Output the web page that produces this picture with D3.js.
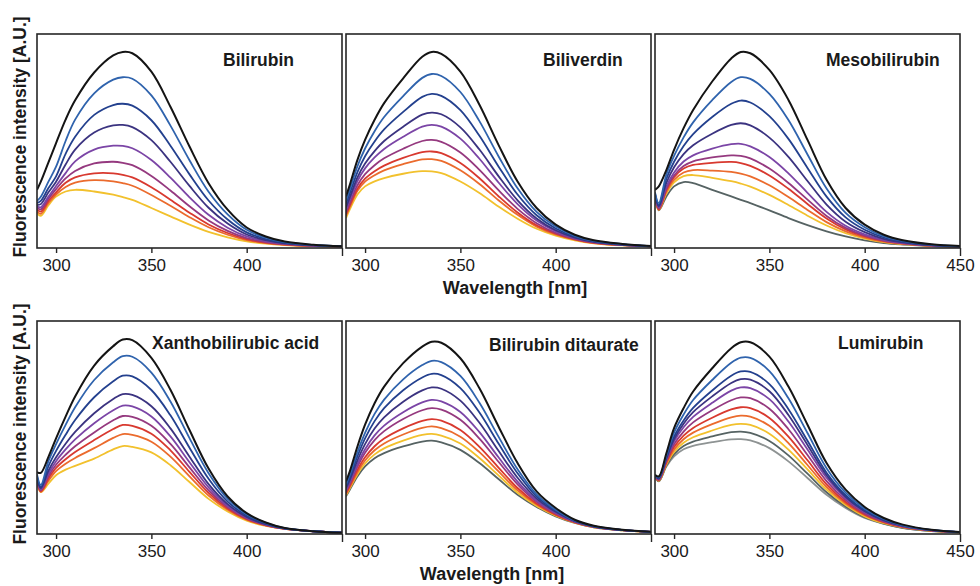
<!DOCTYPE html>
<html>
<head>
<meta charset="utf-8">
<script src="https://cdn.jsdelivr.net/npm/d3@7"></script>
<style>
  html, body { margin: 0; padding: 0; background: #fff; }
  svg { display: block; }
  text { font-family: "Liberation Sans", Arial, Helvetica, sans-serif; fill: #1a1a1a; }
</style>
</head>
<body>
<svg id="chart" width="980" height="586"></svg>
<script>
// Emission wavelengths (nm) shared by every spectrum
const wavelengths = [290, 292, 296, 300, 305, 310, 320, 330, 335, 340, 350, 360, 370, 380, 390, 400, 410, 420, 435, 450];
const xTicks = [300, 350, 400, 450];
const panelNames = ["Bilirubin", "Biliverdin", "Mesobilirubin", "Xanthobilirubic acid", "Bilirubin ditaurate", "Lumirubin"];
// Trace colours, highest intensity first
const traceColors = ["#141414", "#2f63ad", "#23408e", "#3b3380", "#7b45a6", "#95397f", "#d8392f", "#eb6b2d", "#f2c12d", "#566363", "#8e9393"];

// Fluorescence intensity (A.U.), one row per trace
const bilirubin = [
  [27.2, 31, 40, 49, 60, 69, 82, 90, 91.6, 91, 82.4, 66, 47.4, 30.3, 17.9, 9.6, 5.4, 3, 1.5, 0.8],
  [22, 24, 31, 38, 50, 60, 72.3, 78.7, 79.8, 79.1, 71.3, 57.2, 41, 26.3, 15.7, 8.5, 4.8, 2.7, 1.4, 0.8],
  [21, 22, 28, 33.5, 44, 52, 62.2, 66.8, 67.4, 66.5, 59.7, 47.8, 34.4, 22.2, 13.3, 7.3, 4.2, 2.4, 1.3, 0.8],
  [20, 20.5, 26, 31, 39, 46, 54, 57.3, 57.5, 56.5, 50.4, 40.3, 29, 18.8, 11.4, 6.3, 3.7, 2.2, 1.2, 0.8],
  [19.5, 19, 24, 29, 35, 40.5, 46, 47.8, 47.7, 46.6, 41.1, 32.9, 23.7, 15.5, 9.5, 5.4, 3.2, 2, 1.1, 0.8],
  [19, 18, 23, 27.5, 32.5, 36, 39.5, 40.3, 39.8, 38.7, 33.7, 26.9, 19.5, 12.9, 8, 4.6, 2.8, 1.8, 1, 0.8],
  [18, 17, 22, 26, 30.5, 33, 34.9, 34.9, 34.2, 33, 28.4, 22.6, 16.5, 11, 7, 4.1, 2.5, 1.6, 1, 0.8],
  [17, 16, 21, 25, 28.5, 30.5, 31.7, 31.1, 30.3, 29.1, 24.8, 19.7, 14.4, 9.7, 6.2, 3.7, 2.3, 1.5, 0.9, 0.8],
  [16.3, 15, 20, 24, 26.4, 27.2, 26.4, 24.9, 23.8, 22.5, 18.7, 14.8, 10.9, 7.5, 5, 3.1, 2, 1.4, 0.9, 0.8]
];
const biliverdin = [
  [24.1, 29.5, 41.2, 50.5, 59.9, 67.7, 79.3, 89.4, 91.6, 90.7, 82.4, 66.9, 48.2, 31.1, 18.7, 10.9, 6.2, 3.6, 1.9, 0.9],
  [22.2, 27.4, 38.2, 46.5, 54.6, 61.2, 71, 79.5, 81.3, 80.4, 72.9, 59.3, 42.9, 27.9, 16.9, 10, 5.7, 3.3, 1.8, 0.9],
  [20.6, 25.5, 35.5, 42.9, 49.8, 55.4, 63.6, 70.6, 72, 71.1, 64.4, 52.4, 38.1, 25, 15.3, 9.1, 5.3, 3.1, 1.7, 0.9],
  [19, 23.7, 33, 39.5, 45.3, 50, 56.7, 62.3, 63.3, 62.5, 56.4, 46, 33.6, 22.3, 13.8, 8.3, 4.9, 2.9, 1.5, 0.8],
  [17.9, 22.5, 31.3, 37.2, 42.3, 46.3, 52, 56.7, 57.5, 56.7, 51.1, 41.7, 30.6, 20.5, 12.8, 7.8, 4.6, 2.7, 1.5, 0.8],
  [16.7, 21, 29.3, 34.5, 38.7, 41.9, 46.4, 50, 50.5, 49.6, 44.6, 36.5, 27, 18.3, 11.6, 7.1, 4.3, 2.6, 1.4, 0.8],
  [15.7, 19.9, 27.7, 32.4, 35.9, 38.5, 42.1, 44.8, 45.1, 44.3, 39.7, 32.6, 24.2, 16.6, 10.6, 6.7, 4, 2.4, 1.3, 0.8],
  [15, 19.2, 26.7, 31, 34, 36.3, 39.2, 41.4, 41.5, 40.7, 36.3, 29.9, 22.3, 15.5, 10, 6.3, 3.9, 2.3, 1.3, 0.8],
  [14, 18, 25, 28.8, 31.1, 32.7, 34.7, 35.9, 35.8, 35, 31.1, 25.7, 19.4, 13.7, 9, 5.8, 3.6, 2.2, 1.2, 0.8]
];
const mesobilirubin = [
  [27.2, 28.8, 36.5, 45.9, 56, 64.5, 77.8, 88.6, 91.6, 91, 83.2, 69.2, 50.5, 31.9, 18.7, 10.9, 6.2, 3.6, 1.7, 0.9],
  [26, 21, 34.4, 43, 51.7, 58.7, 69.1, 77.6, 79.8, 79, 72, 59.8, 43.7, 27.8, 16.4, 9.7, 5.5, 3.3, 1.6, 0.8],
  [25.5, 20, 32.4, 40.3, 47.7, 53.2, 61.2, 67.4, 68.9, 68, 61.6, 51, 37.4, 24, 14.3, 8.5, 4.9, 2.9, 1.4, 0.7],
  [25, 19.5, 30.5, 37.7, 43.9, 48, 53.4, 57.5, 58.3, 57.3, 51.6, 42.6, 31.3, 20.3, 12.3, 7.4, 4.3, 2.6, 1.3, 0.7],
  [24.5, 19, 28.8, 35.3, 40.4, 43.3, 46.4, 48.5, 48.7, 47.5, 42.5, 34.9, 25.8, 16.9, 10.4, 6.4, 3.8, 2.4, 1.2, 0.7],
  [24.5, 18.5, 27.8, 33.9, 38.3, 40.5, 42.3, 43.3, 43.1, 41.9, 37.1, 30.4, 22.6, 15, 9.4, 5.8, 3.5, 2.2, 1.1, 0.7],
  [24, 18, 27.2, 33.1, 37.1, 38.8, 39.8, 40.2, 39.7, 38.4, 33.9, 27.7, 20.6, 13.8, 8.7, 5.4, 3.3, 2.1, 1.1, 0.7],
  [24, 18, 26.3, 31.8, 35.3, 36.4, 36.2, 35.6, 34.8, 33.5, 29.3, 23.8, 17.8, 12.1, 7.8, 4.9, 3, 2, 1, 0.7],
  [24, 17.8, 25.5, 30.7, 33.6, 34.1, 32.8, 31.2, 30.1, 28.7, 24.8, 20.1, 15.1, 10.5, 6.9, 4.4, 2.7, 1.8, 1, 0.7],
  [24.1, 17.6, 24.1, 28.8, 30.8, 30.3, 27.2, 24.1, 22.5, 21, 17.6, 14, 10.7, 7.8, 5.4, 3.6, 2.3, 1.6, 0.9, 0.6]
];
const xanthobilirubicAcid = [
  [29.1, 28.7, 36.2, 44.9, 55.1, 64.6, 79.1, 88.2, 91.3, 91, 82.7, 67.7, 48.8, 30.7, 17.6, 9.8, 5.4, 2.8, 1.3, 0.6],
  [28, 23, 34.2, 42.2, 51.2, 59.5, 72.3, 80.6, 83.5, 83.2, 75.8, 62.2, 45, 28.5, 16.5, 9.3, 5.2, 2.7, 1.3, 0.6],
  [27, 22, 31.9, 39, 46.6, 53.5, 64.2, 71.7, 74.3, 74, 67.6, 55.7, 40.5, 25.9, 15.2, 8.6, 4.9, 2.6, 1.3, 0.6],
  [26.5, 21.5, 29.7, 36, 42.4, 47.9, 56.7, 63.4, 65.7, 65.3, 60, 49.6, 36.3, 23.4, 14, 8, 4.6, 2.5, 1.3, 0.6],
  [26, 21, 28.4, 34.2, 39.7, 44.4, 52, 58.1, 60.3, 59.9, 55.2, 45.8, 33.7, 21.9, 13.3, 7.6, 4.4, 2.5, 1.3, 0.6],
  [25.5, 20.5, 27.2, 32.5, 37.2, 41.2, 47.7, 53.4, 55.4, 55, 50.8, 42.3, 31.3, 20.5, 12.6, 7.3, 4.3, 2.5, 1.3, 0.6],
  [25, 20, 26.1, 31, 35.1, 38.5, 44.1, 49.3, 51.2, 50.8, 47.1, 39.3, 29.2, 19.3, 12, 7, 4.1, 2.4, 1.3, 0.6],
  [24.8, 19.8, 25, 29.5, 33, 35.7, 40.3, 45.1, 46.9, 46.5, 43.3, 36.3, 27.1, 18.1, 11.4, 6.7, 4, 2.4, 1.3, 0.6],
  [24.4, 19.7, 23.6, 27.6, 30.2, 32, 35.4, 39.7, 41.3, 40.9, 38.3, 32.3, 24.4, 16.5, 10.6, 6.3, 3.8, 2.4, 1.3, 0.6]
];
const bilirubinDitaurate = [
  [24.7, 29.4, 41.1, 51.3, 61.4, 69.2, 80.2, 88, 90.3, 89.8, 82.5, 68.4, 50.5, 33.3, 20, 12.2, 6.7, 3.9, 2, 1.1],
  [23.3, 27.7, 38.4, 47.5, 56.4, 63.1, 72.6, 79.3, 81.3, 80.7, 74.2, 61.6, 45.7, 30.4, 18.6, 11.4, 6.4, 3.7, 1.9, 1],
  [22.4, 26.6, 36.5, 44.9, 53, 59.1, 67.5, 73.5, 75.2, 74.6, 68.5, 57, 42.5, 28.5, 17.6, 10.9, 6.2, 3.6, 1.9, 1],
  [21.5, 25.4, 34.6, 42.2, 49.5, 54.8, 62.1, 67.4, 68.8, 68.2, 62.6, 52.2, 39.1, 26.4, 16.6, 10.4, 6, 3.5, 1.8, 1],
  [20.6, 24.4, 32.8, 39.8, 46.3, 50.9, 57.2, 61.8, 63, 62.3, 57.3, 47.8, 36, 24.6, 15.7, 9.9, 5.8, 3.4, 1.8, 1],
  [20, 23.6, 31.6, 38.1, 44.1, 48.3, 54, 58.1, 59.1, 58.4, 53.6, 44.8, 33.9, 23.3, 15.1, 9.6, 5.7, 3.4, 1.8, 1],
  [19.2, 22.7, 30.1, 36, 41.2, 44.8, 49.6, 53.1, 53.9, 53.2, 48.8, 40.9, 31.2, 21.6, 14.3, 9.1, 5.5, 3.3, 1.8, 1],
  [18.7, 22, 29, 34.5, 39.3, 42.5, 46.7, 49.8, 50.5, 49.7, 45.7, 38.4, 29.4, 20.5, 13.8, 8.9, 5.4, 3.2, 1.8, 0.9],
  [18.2, 21.4, 28, 33.1, 37.4, 40.2, 43.8, 46.5, 47, 46.2, 42.5, 35.7, 27.5, 19.4, 13.2, 8.6, 5.3, 3.1, 1.7, 0.9],
  [17.7, 20.8, 27, 31.7, 35.6, 38, 41.1, 43.4, 43.8, 43, 39.5, 33.3, 25.8, 18.4, 12.7, 8.3, 5.2, 3.1, 1.7, 0.9]
];
const lumirubin = [
  [27.8, 27, 38, 49.7, 59.1, 66.9, 77.8, 87.2, 90, 90, 83.3, 69.2, 51.3, 33.3, 20.8, 12.7, 7.5, 4.4, 2, 0.9],
  [27.6, 26.6, 37, 47.6, 56.1, 62.9, 72.3, 80.4, 82.8, 82.7, 76.5, 63.7, 47.4, 30.9, 19.4, 11.9, 7.1, 4.1, 1.9, 0.9],
  [27.5, 26.3, 36.1, 45.7, 53.3, 59.2, 67.4, 74.3, 76.3, 76.1, 70.4, 58.6, 43.8, 28.8, 18.2, 11.1, 6.7, 3.9, 1.8, 0.9],
  [27.4, 26, 35.6, 44.6, 51.8, 57.2, 64.6, 70.9, 72.7, 72.5, 67, 55.9, 41.8, 27.6, 17.5, 10.7, 6.4, 3.8, 1.8, 0.9],
  [27.3, 25.8, 35.1, 43.5, 50.1, 55, 61.6, 67.3, 68.8, 68.5, 63.3, 52.8, 39.7, 26.4, 16.8, 10.3, 6.2, 3.7, 1.7, 0.9],
  [27.2, 25.5, 34.4, 42.1, 48.1, 52.4, 58.1, 62.8, 64.1, 63.8, 58.8, 49.2, 37.1, 24.8, 15.9, 9.7, 5.9, 3.5, 1.7, 0.9],
  [27.1, 25.3, 33.8, 40.8, 46.2, 49.8, 54.6, 58.5, 59.5, 59.1, 54.5, 45.7, 34.6, 23.3, 15, 9.2, 5.6, 3.3, 1.6, 0.9],
  [27, 25.1, 33.2, 39.6, 44.5, 47.6, 51.6, 54.8, 55.6, 55.1, 50.8, 42.7, 32.4, 22, 14.3, 8.8, 5.4, 3.2, 1.6, 0.8],
  [27, 25, 32.7, 38.5, 42.8, 45.4, 48.6, 51.2, 51.7, 51.2, 47.1, 39.6, 30.3, 20.8, 13.6, 8.3, 5.1, 3.1, 1.5, 0.8],
  [27, 24.8, 32.2, 37.5, 41.3, 43.4, 45.8, 47.8, 48.1, 47.5, 43.7, 36.9, 28.3, 19.6, 12.9, 7.9, 4.9, 2.9, 1.4, 0.8],
  [27, 24.7, 31.7, 36.4, 39.8, 41.4, 43.1, 44.4, 44.5, 43.9, 40.3, 34.1, 26.3, 18.4, 12.2, 7.5, 4.7, 2.8, 1.4, 0.8]
];
// Panels 3 and 5 use a dark grey for their tenth trace
const panelColorIndex = [
  [0, 1, 2, 3, 4, 5, 6, 7, 8],
  [0, 1, 2, 3, 4, 5, 6, 7, 8],
  [0, 1, 2, 3, 4, 5, 6, 7, 8, 9],
  [0, 1, 2, 3, 4, 5, 6, 7, 8],
  [0, 1, 2, 3, 4, 5, 6, 7, 8, 9],
  [0, 1, 2, 3, 4, 5, 6, 7, 8, 9, 10]
];
const panelSpectra = [bilirubin, biliverdin, mesobilirubin, xanthobilirubicAcid, bilirubinDitaurate, lumirubin];

// ---- layout ----
const colLeft = [37, 346, 655];
const panelW = 305;
const rowBox = [{ top: 34, bottom: 248 }, { top: 321, bottom: 534 }];
// title anchor (start x, baseline y) relative to each frame's top-left corner
const titleOffset = [[186, 32], [197, 32], [171, 31.5], [115, 28], [143, 30], [183, 28]];

const svg = d3.select("#chart");
const defs = svg.append("defs");

panelSpectra.forEach((spectra, p) => {
  const col = p % 3, row = Math.floor(p / 3);
  const x0 = colLeft[col], box = rowBox[row];

  const x = d3.scaleLinear().domain([290, 450]).range([x0, x0 + panelW]);
  const y = d3.scaleLinear().domain([0, 100]).range([box.bottom, box.top]);

  const clipId = "clip" + p;
  defs.append("clipPath").attr("id", clipId)
    .append("rect")
    .attr("x", x0).attr("y", box.top)
    .attr("width", panelW).attr("height", box.bottom - box.top);

  const g = svg.append("g");

  const line = d3.line()
    .x((d, i) => x(wavelengths[i]))
    .y(d => y(d))
    .curve(d3.curveCatmullRom.alpha(0.5));

  // lowest traces first so the black trace sits on top
  const order = d3.range(spectra.length).reverse();
  g.append("g").attr("clip-path", `url(#${clipId})`)
    .selectAll("path")
    .data(order)
    .join("path")
    .attr("d", k => line(spectra[k]))
    .attr("fill", "none")
    .attr("stroke", k => traceColors[panelColorIndex[p][k]])
    .attr("stroke-width", k => k === 0 ? 2 : 1.8)
    .attr("stroke-linejoin", "round");

  // frame
  g.append("rect")
    .attr("x", x0).attr("y", box.top)
    .attr("width", panelW).attr("height", box.bottom - box.top)
    .attr("fill", "none").attr("stroke", "#262626").attr("stroke-width", 1.6);

  // x axis
  const axis = d3.axisBottom(x)
    .tickValues(xTicks)
    .tickSize(5)
    .tickPadding(6)
    .tickFormat(v => (v === 450 && col !== 2) ? "" : d3.format("d")(v));
  const ax = g.append("g")
    .attr("transform", `translate(0,${box.bottom})`)
    .call(axis);
  ax.select(".domain").remove();
  ax.selectAll(".tick line").attr("stroke", "#262626").attr("stroke-width", 1.4);
  ax.selectAll(".tick line").filter(v => v === 450).attr("y2", 8);
  ax.selectAll(".tick text")
    .attr("fill", "#1a1a1a")
    .style("font-family", '"Liberation Sans", Arial, sans-serif')
    .style("font-size", "17px");

  // panel title
  g.append("text")
    .attr("x", x0 + titleOffset[p][0])
    .attr("y", box.top + titleOffset[p][1])
    .attr("font-size", "17.5px")
    .attr("font-weight", "bold")
    .text(panelNames[p]);
});

// axis titles
const xTitle = [{ x: 515, y: 294 }, { x: 492, y: 580 }];
xTitle.forEach(t => {
  svg.append("text")
    .attr("x", t.x).attr("y", t.y)
    .attr("text-anchor", "middle")
    .attr("font-size", "18px")
    .attr("font-weight", "bold")
    .text("Wavelength [nm]");
});

const yTitle = [{ x: 26, y: 137 }, { x: 26, y: 424 }];
yTitle.forEach(t => {
  svg.append("text")
    .attr("transform", `translate(${t.x},${t.y}) rotate(-90)`)
    .attr("text-anchor", "middle")
    .attr("font-size", "17.5px")
    .attr("font-weight", "bold")
    .text("Fluorescence intensity [A.U.]");
});
</script>
</body>
</html>
